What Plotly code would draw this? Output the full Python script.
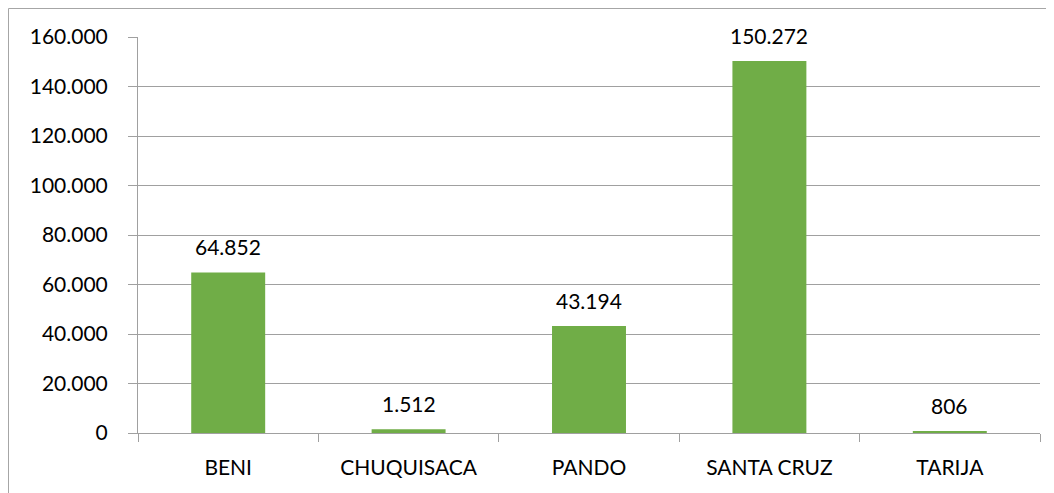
import plotly.graph_objects as go

categories = ["BENI", "CHUQUISACA", "PANDO", "SANTA CRUZ", "TARIJA"]
values = [64852, 1512, 43194, 150272, 806]
y_ticks = [0, 20000, 40000, 60000, 80000, 100000, 120000, 140000, 160000]

# page body has an 8px margin; figure sized to sit inside the 1054x493 window
W, H = 1046, 485
L, R, T, B = 130, 14, 29, 60
pw = W - L - R
ph = H - T - B
FONT = "Lato, Open Sans, sans-serif"

fig = go.Figure(go.Bar(
    x=categories, y=values,
    marker=dict(color="#70ad47", line=dict(width=0)),
    width=0.41,
    hoverinfo="x+y",
))

# value labels above the bars
for c, v in zip(categories, values):
    fig.add_annotation(
        x=c, y=v, xref="x", yref="y",
        text=f"{v:,d}".replace(",", "."),
        showarrow=False, yanchor="bottom", yshift=11,
        font=dict(family=FONT, size=21, color="#000000"),
    )

fig.update_layout(
    width=W, height=H,
    margin=dict(l=L, r=R, t=T, b=B, pad=0),
    paper_bgcolor="white", plot_bgcolor="white",
    separators=",.",
    showlegend=False,
    font=dict(family=FONT, size=21, color="#000000"),
)
fig.update_yaxes(
    range=[0, 160000], tickvals=y_ticks, tickformat=",d",
    showgrid=True, gridcolor="#a0a0a0", gridwidth=1,
    showline=True, linecolor="#a0a0a0", linewidth=1,
    ticks="outside", ticklen=9, tickcolor="#a0a0a0",
    ticklabelstandoff=16, zeroline=False,
    tickfont=dict(size=21),
)
fig.update_xaxes(
    showline=True, linecolor="#a0a0a0", linewidth=1,
    ticks="outside", tickson="boundaries", ticklen=8, tickcolor="#a0a0a0",
    ticklabelstandoff=16,
    tickfont=dict(size=21),
)
# chart frame (top and left border)
x0 = (0.5 - L) / pw
y1 = (H - 0.5 - B) / ph
fig.add_shape(type="line", xref="paper", yref="paper", x0=x0, x1=(W + 5 - L) / pw,
              y0=y1, y1=y1, line=dict(color="#a6a6a6", width=1))
fig.add_shape(type="line", xref="paper", yref="paper", x0=x0, x1=x0,
              y0=y1, y1=(-B - 5) / ph, line=dict(color="#a6a6a6", width=1))

fig.write_html("out.html")
